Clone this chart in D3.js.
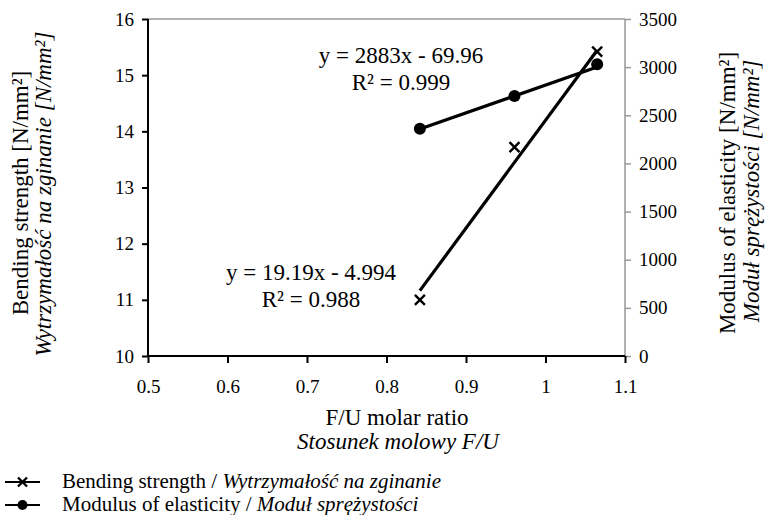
<!DOCTYPE html>
<html><head><meta charset="utf-8">
<script src="https://cdn.jsdelivr.net/npm/d3@7"></script>
<style>body{margin:0;background:#fff}
svg text{font-family:"Liberation Serif","Tinos","Times New Roman","DejaVu Serif",serif !important;fill:#000}</style>
</head><body>
<svg id="c" width="770" height="515"></svg>
<script>
const ratios = [0.842, 0.961, 1.065];
const bendingStrength = [11.0, 13.72, 15.42];
const modulus = [2360, 2700, 3030];
const bendingFit = {slope: 19.19, intercept: -4.994, label: "y = 19.19x - 4.994", r2: "R² = 0.988"};
const modulusFit = {slope: 2883, intercept: -69.96, label: "y = 2883x - 69.96", r2: "R² = 0.999"};
const xTicks = [0.5, 0.6, 0.7, 0.8, 0.9, 1.0, 1.1];
const leftTicks = [10, 11, 12, 13, 14, 15, 16];
const rightTicks = [0, 500, 1000, 1500, 2000, 2500, 3000, 3500];

const FONT = '"Liberation Serif","Tinos","Times New Roman","DejaVu Serif",serif';
const svg = d3.select("#c").attr("font-family", FONT);
const L = 148, R = 625, T = 19, B = 356;
const x = d3.scaleLinear().domain([0.5, 1.1]).range([L, R]);
const yL = d3.scaleLinear().domain([10, 16]).range([B, T]);
const yR = d3.scaleLinear().domain([0, 3500]).range([B, T]);

svg.append("line").attr("x1", L).attr("x2", R).attr("y1", T).attr("y2", T).attr("stroke", "#999").attr("stroke-width", 1.5);

const gR = svg.append("g").attr("transform", `translate(${R},0)`)
  .call(d3.axisRight(yR).tickValues(rightTicks).tickSize(6).tickPadding(8).tickFormat(d3.format("d")));
gR.attr("font-family", FONT).attr("font-size", 19);
gR.selectAll("path,line").attr("stroke", "#999").attr("stroke-width", 1.5);
gR.select(".domain").attr("d", `M0,${T}V${B}`);

const gL = svg.append("g").attr("transform", `translate(${L},0)`)
  .call(d3.axisLeft(yL).tickValues(leftTicks).tickSize(6).tickPadding(8).tickFormat(d3.format("d")));
gL.attr("font-family", FONT).attr("font-size", 19);
gL.selectAll("path,line").attr("stroke", "#000").attr("stroke-width", 2);
gL.select(".domain").attr("d", `M0,${T}V${B}`);

const gB = svg.append("g").attr("transform", `translate(0,${B})`)
  .call(d3.axisBottom(x).tickValues(xTicks).tickSize(7).tickPadding(17).tickFormat(d => String(+d.toFixed(1))));
gB.attr("font-family", FONT).attr("font-size", 19);
gB.selectAll("path,line").attr("stroke", "#000").attr("stroke-width", 2);
gB.select(".domain").attr("d", `M${L},0H${R}`);

const x0 = d3.min(ratios), x1 = d3.max(ratios);
svg.append("line")
  .attr("x1", x(x0)).attr("y1", yL(bendingFit.slope * x0 + bendingFit.intercept))
  .attr("x2", x(x1)).attr("y2", yL(bendingFit.slope * x1 + bendingFit.intercept))
  .attr("stroke", "#000").attr("stroke-width", 3.2);
svg.append("line")
  .attr("x1", x(x0)).attr("y1", yR(modulusFit.slope * x0 + modulusFit.intercept))
  .attr("x2", x(x1)).attr("y2", yR(modulusFit.slope * x1 + modulusFit.intercept))
  .attr("stroke", "#000").attr("stroke-width", 3.2);

const cross = (g, cx, cy, s) => {
  g.append("path").attr("d", `M${cx - s},${cy - s}L${cx + s},${cy + s}M${cx - s},${cy + s}L${cx + s},${cy - s}`)
    .attr("stroke", "#000").attr("stroke-width", 2.4).attr("fill", "none");
};
ratios.forEach((r, i) => cross(svg, x(r), yL(bendingStrength[i]), 5));
svg.selectAll("circle.m").data(ratios).join("circle").attr("class", "m")
  .attr("cx", d => x(d)).attr("cy", (d, i) => yR(modulus[i])).attr("r", 6).attr("fill", "#000");

const ann = (cx, y, fit, gap) => {
  svg.append("text").attr("x", cx).attr("y", y).attr("text-anchor", "middle").attr("font-size", 23).text(fit.label);
  svg.append("text").attr("x", cx).attr("y", y + gap).attr("text-anchor", "middle").attr("font-size", 23).text(fit.r2);
};
ann(401, 63, modulusFit, 27);
ann(311, 280, bendingFit, 27);

const vt = (cx, cy, txt, italic) => svg.append("text")
  .attr("transform", `translate(${cx},${cy}) rotate(-90)`).attr("text-anchor", "middle")
  .attr("font-size", 23).attr("font-style", italic ? "italic" : "normal").text(txt);
vt(28, 193, "Bending strength [N/mm²]", false);
vt(51, 194, "Wytrzymałość na zginanie [N/mm²]", true);
vt(735, 193, "Modulus of elasticity [N/mm²]", false);
vt(759, 191, "Moduł sprężystości [N/mm²]", true);

svg.append("text").attr("x", 397).attr("y", 425).attr("text-anchor", "middle").attr("font-size", 23).text("F/U molar ratio");
svg.append("text").attr("x", 398).attr("y", 449).attr("text-anchor", "middle").attr("font-size", 23).attr("font-style", "italic").text("Stosunek molowy F/U");

const leg = [
  {name: "Bending strength / ", it: "Wytrzymałość na zginanie", m: "x"},
  {name: "Modulus of elasticity / ", it: "Moduł sprężystości", m: "o"}
];
leg.forEach((d, i) => {
  const cy = 482 + i * 23;
  svg.append("line").attr("x1", 5).attr("x2", 40).attr("y1", cy).attr("y2", cy).attr("stroke", "#000").attr("stroke-width", 2);
  if (d.m === "x") cross(svg, 22.5, cy, 4.5);
  else svg.append("circle").attr("cx", 22.5).attr("cy", cy).attr("r", 5).attr("fill", "#000");
  const t = svg.append("text").attr("x", 62).attr("y", cy + 6).attr("font-size", 21);
  t.append("tspan").text(d.name);
  t.append("tspan").attr("font-style", "italic").text(d.it);
});
</script>
</body></html>
